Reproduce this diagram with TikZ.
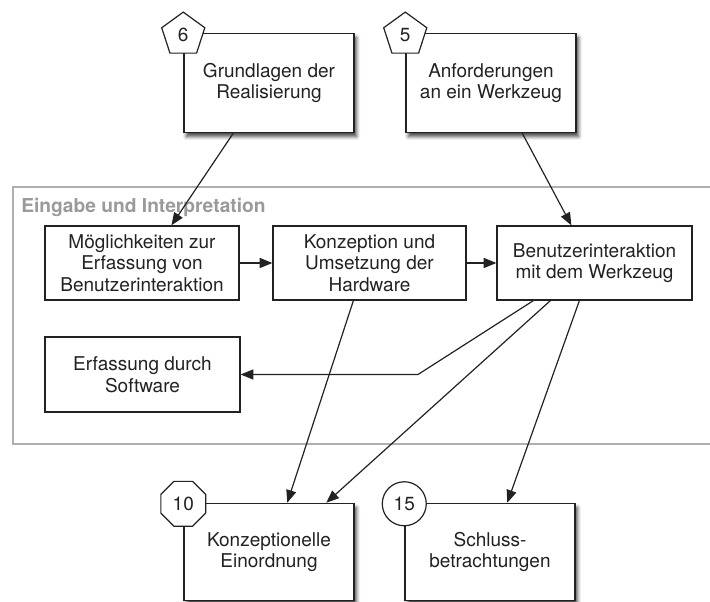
\documentclass[tikz,border=0pt]{standalone}
\usepackage{fontspec}
\setmainfont{TeX Gyre Heros}
\usetikzlibrary{shapes.geometric, arrows.meta, calc, shadows.blur}

\definecolor{ink}{HTML}{222222}
\definecolor{groupline}{HTML}{AFAFAF}
\definecolor{grouptext}{HTML}{9A9A9A}

\tikzset{
  txt/.style={font=\fontsize{14.25pt}{16.2pt}\selectfont, text=ink, align=center},
  chapter/.style={txt, draw=ink, line width=1.1pt, fill=white, inner sep=0pt,
    blur shadow={shadow xshift=1.8pt, shadow yshift=-3pt,
      shadow blur radius=2.8pt, shadow opacity=75}},
  topic/.style={txt, draw=ink, line width=0.9pt, fill=white, inner sep=0pt},
  badge/.style={txt, draw=ink, line width=0.9pt, fill=white, inner sep=0pt},
  penta/.style={badge, regular polygon, regular polygon sides=5, minimum size=34pt},
  octa/.style={badge, regular polygon, regular polygon sides=8, minimum size=36.4pt},
  roundbadge/.style={badge, circle, minimum size=33pt},
  conn/.style={draw=ink, line width=0.9pt, -{Triangle[length=9.5pt, width=7.5pt]}},
  grouplabel/.style={font=\fontsize{14.4pt}{16pt}\selectfont\bfseries, text=grouptext,
    inner sep=0pt, anchor=base west},
}

\begin{document}
\begin{tikzpicture}[x=0.75pt, y=-0.75pt]
\useasboundingbox (0,0) rectangle (710,602);
\clip (0,0) rectangle (710,602);

% group frame
\draw[groupline, line width=1.2pt] (13,187) rectangle (730,444);
\node[grouplabel] (glabel) at (21,212.5) {Eingabe und Interpretation};

% chapter boxes
\node[chapter, minimum width=127.5pt, minimum height=74.25pt] (grund) at (269,83)
  {Grundlagen der\\Realisierung};
\node[chapter, minimum width=127.5pt, minimum height=74.25pt] (anf) at (491,83)
  {Anforderungen\\an ein Werkzeug};
\node[chapter, minimum width=127.5pt, minimum height=72.75pt] (konz) at (269,552)
  {Konzeptionelle\\Einordnung};
\node[chapter, minimum width=127.5pt, minimum height=72.75pt] (schluss) at (490,552)
  {Schluss-\\betrachtungen};

% chapter numbers
\node[penta] (n6) at ($(grund.north west)+(0,2)$) {6};
\node[penta] (n5) at ($(anf.north west)+(0,2)$) {5};
\node[octa] (n10) at ($(konz.north west)+(0,1)$) {10};
\node[roundbadge] (n15) at ($(schluss.north west)+(0,1)$) {15};

% topics inside the group
\node[topic, minimum width=145.5pt, minimum height=55.5pt] (moeg) at (142,263)
  {Möglichkeiten zur\\Erfassung von\\Benutzerinteraktion};
\node[topic, minimum width=144.75pt, minimum height=55.5pt] (hw) at (369.5,263)
  {Konzeption und\\Umsetzung der\\Hardware};
\node[topic, minimum width=146.25pt, minimum height=55.5pt] (ben) at (594.5,263)
  {Benutzerinteraktion\\mit dem Werkzeug};
\node[topic, minimum width=146.25pt, minimum height=56.25pt] (soft) at (142.5,374.5)
  {Erfassung durch\\Software};

% connectors
\coordinate (knick) at (418,374.5);
\draw[conn] ($(grund.south west)+(50,0)$) -- ($(moeg.north west)+(127,0)$);
\draw[conn] ($(anf.south west)+(117,0)$) -- ($(ben.north west)+(75,0)$);
\draw[conn] (moeg.east) -- (hw.west);
\draw[conn] (hw.east) -- (ben.west);
\draw[conn] ($(ben.south west)+(37,0)$) -- (knick) -- (soft.east);
\draw[conn] ($(hw.south west)+(81,0)$) -- ($(konz.north west)+(104,0)$);
\draw[conn] ($(ben.south west)+(54,0)$) -- ($(konz.north west)+(143,0)$);
\draw[conn] ($(ben.south west)+(83,0)$) -- ($(schluss.north west)+(103,0)$);
\end{tikzpicture}
\end{document}
